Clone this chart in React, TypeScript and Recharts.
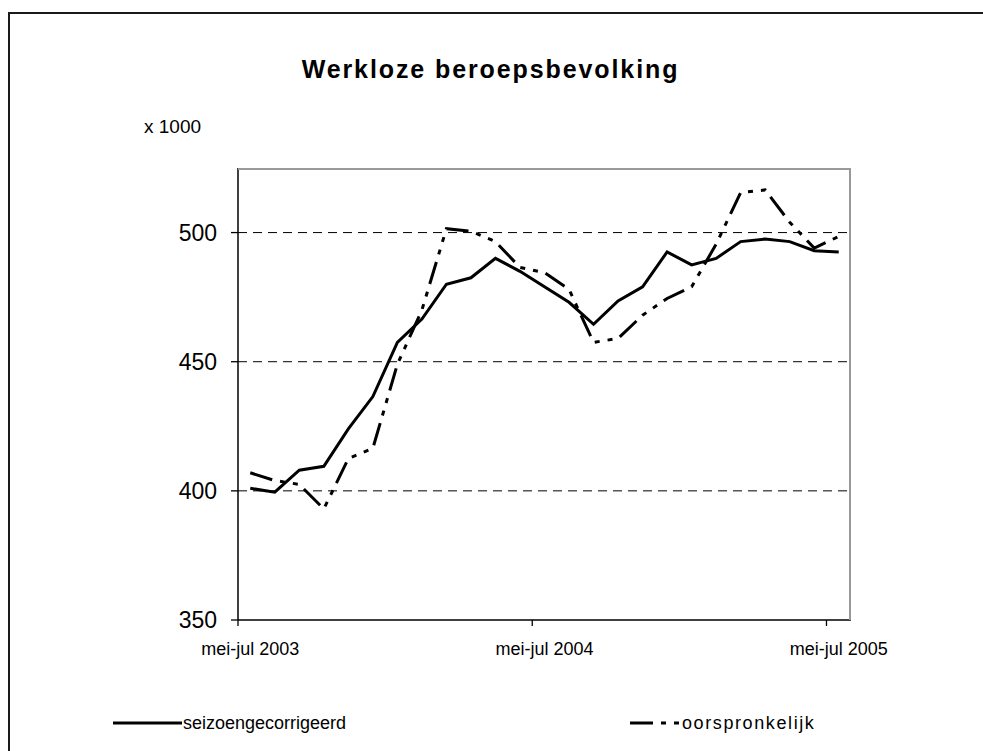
import { CartesianGrid, ComposedChart, Line, XAxis, YAxis } from "recharts";

const periods = [
  "mei-jul 2003", "jun-aug 2003", "jul-sep 2003", "aug-okt 2003", "sep-nov 2003",
  "okt-dec 2003", "nov-jan 2004", "dec-feb 2004", "jan-mrt 2004", "feb-apr 2004",
  "mrt-mei 2004", "apr-jun 2004", "mei-jul 2004", "jun-aug 2004", "jul-sep 2004",
  "aug-okt 2004", "sep-nov 2004", "okt-dec 2004", "nov-jan 2005", "dec-feb 2005",
  "jan-mrt 2005", "feb-apr 2005", "mrt-mei 2005", "apr-jun 2005", "mei-jul 2005",
];

// x 1000
const seasonAdjusted = [
  401, 399.5, 408, 409.5, 424, 436.5, 457.5, 466.5, 480, 482.5, 490, 485, 479,
  473, 464.5, 473.5, 479, 492.5, 487.5, 490, 496.5, 497.5, 496.5, 493, 492.5,
];
const original = [
  407, 404, 402.5, 393, 412.5, 416.5, 449, 470, 501.5, 500.5, 496.5, 486.5, 484.5,
  478, 457.5, 459, 468, 474.5, 479, 495.5, 515.5, 516.5, 504, 494, 498.5,
];

const yTicks = [350, 400, 450, 500];
const gridValues = [400, 450, 500];
const yDomain = [350, 525];

const data = periods.map((p, i) => ({
  period: p,
  seizoengecorrigeerd: seasonAdjusted[i],
  oorspronkelijk: original[i],
}));

const W = 983;
const H = 751;
const PLOT = { left: 238, top: 168, right: 851, bottom: 620 };
const HALF_BAND = (PLOT.right - PLOT.left) / periods.length / 2;
const FONT = '"Liberation Sans", Arial, sans-serif';
const DASH = "23 8 5 8 5 8";

function PeriodTick({ x, y, payload }: any) {
  const axisY = y - 22;
  return (
    <g>
      <line x1={x - HALF_BAND} x2={x - HALF_BAND} y1={axisY} y2={axisY + 6} stroke="#000" strokeWidth={1.3} />
      <text x={x} y={y} dy="0.71em" textAnchor="middle" fontSize={18} fill="#000" fontFamily={FONT}>
        {payload.value}
      </text>
    </g>
  );
}

export default function App() {
  return (
    <div style={{ position: "absolute", left: 0, top: 0, width: W, height: H, overflow: "hidden", background: "#fff", fontFamily: FONT }}>
      <div style={{ position: "absolute", left: 8, top: 12, width: 1200, height: 1000, borderTop: "2px solid #1a1a1a", borderLeft: "2px solid #1a1a1a" }} />
      <div style={{ position: "absolute", left: 0, top: 0 }}>
        <ComposedChart
          width={W}
          height={H}
          data={data}
          margin={{ top: PLOT.top, right: W - PLOT.right, bottom: H - PLOT.bottom - 40, left: PLOT.left - 60 }}
        >
          <CartesianGrid vertical={false} horizontalValues={gridValues} stroke="#000" strokeDasharray="9 6" />
          <XAxis
            dataKey="period"
            scale="band"
            height={40}
            interval={11}
            tickLine={false}
            tickSize={6}
            tickMargin={16}
            axisLine={{ stroke: "#000", strokeWidth: 1.5 }}
            tick={<PeriodTick />}
          />
          <YAxis
            width={60}
            domain={yDomain}
            ticks={yTicks}
            allowDataOverflow
            tickSize={7}
            tickMargin={14}
            axisLine={{ stroke: "#000", strokeWidth: 1.5 }}
            tickLine={{ stroke: "#000", strokeWidth: 1.3 }}
            tick={{ fill: "#000", fontSize: 23, fontFamily: FONT }}
          />
          <Line
            dataKey="seizoengecorrigeerd"
            type="linear"
            stroke="#000"
            strokeWidth={3}
            dot={false}
            isAnimationActive={false}
          />
          <Line
            dataKey="oorspronkelijk"
            type="linear"
            stroke="#000"
            strokeWidth={3}
            strokeDasharray={DASH}
            dot={false}
            isAnimationActive={false}
          />
        </ComposedChart>
      </div>
      <div
        style={{
          position: "absolute",
          left: PLOT.left,
          top: PLOT.top,
          width: PLOT.right - PLOT.left,
          height: PLOT.bottom - PLOT.top,
          borderTop: "2px solid #999",
          borderRight: "2px solid #999",
          boxSizing: "border-box",
          pointerEvents: "none",
        }}
      />
      <div style={{ position: "absolute", left: 0, width: 981, top: 54, textAlign: "center", fontSize: 25, fontWeight: "bold", letterSpacing: 1.9, lineHeight: "30px" }}>
        Werkloze beroepsbevolking
      </div>
      <div style={{ position: "absolute", left: 144, top: 116, fontSize: 19, lineHeight: "22px" }}>x 1000</div>
      <div style={{ position: "absolute", left: 0, top: 710, width: W, height: 26, fontSize: 18, lineHeight: "26px" }}>
        <svg style={{ position: "absolute", left: 113, top: 0 }} width={70} height={26}>
          <line x1={0} x2={69} y1={13} y2={13} stroke="#000" strokeWidth={3} />
        </svg>
        <span style={{ position: "absolute", left: 183, top: 0 }}>seizoengecorrigeerd</span>
        <svg style={{ position: "absolute", left: 630, top: 0 }} width={52} height={26}>
          <line x1={0} x2={52} y1={13} y2={13} stroke="#000" strokeWidth={3} strokeDasharray={DASH} />
        </svg>
        <span style={{ position: "absolute", left: 682, top: 0, letterSpacing: 1.6 }}>oorspronkelijk</span>
      </div>
    </div>
  );
}
